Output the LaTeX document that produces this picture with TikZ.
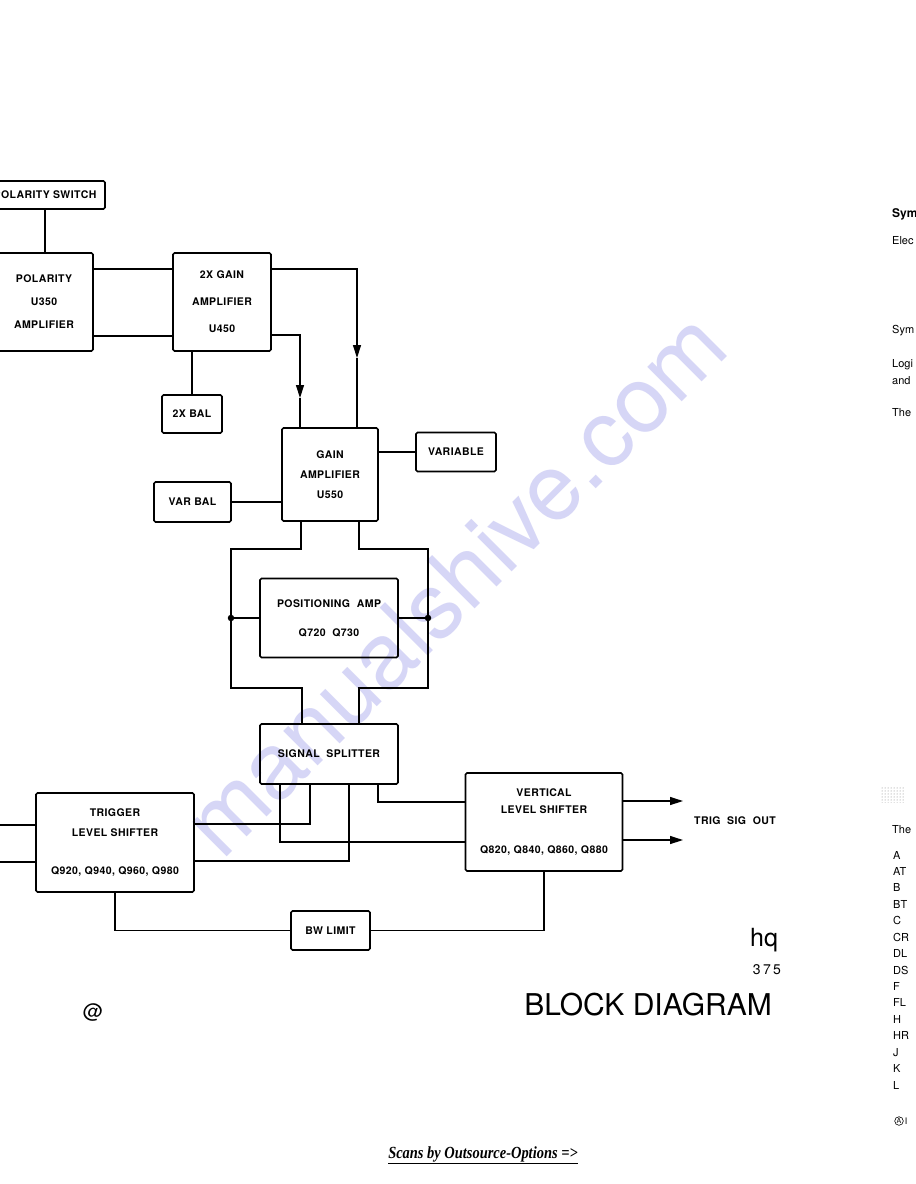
\documentclass[tikz,border=0pt]{standalone}
\usepackage{fontspec}
\setmainfont{TeX Gyre Heros}
\newfontfamily\labfont{TeX Gyre Heros}[LetterSpace=4]
\newfontfamily\scanfont{Liberation Serif}
\usetikzlibrary{arrows.meta,positioning,patterns}
\tikzset{>=Stealth}
\definecolor{wmark}{RGB}{214,214,246}

\begin{document}
\begin{tikzpicture}[x=1pt,y=-1pt,
    block/.style={draw, line width=1.7pt, rounded corners=1.5pt, align=center, inner sep=0pt,
      font=\labfont\fontsize{10.5}{12}\selectfont\bfseries},
    wire/.style={line width=1.3pt},
    arr/.style={wire, -{Triangle[length=13pt,width=8pt]}},
    dot/.style={circle, fill, inner sep=0pt, minimum size=6.5pt},
    lbl/.style={font=\labfont\fontsize{10.5}{12}\selectfont\bfseries},
    side/.style={anchor=base west, inner sep=0pt, font=\fontsize{11}{13}\selectfont}
  ]
    \path[use as bounding box, fill=white] (0,0) rectangle (916,1184);

    \node[rotate=45, text=wmark, font=\fontsize{93}{93}\selectfont, anchor=base west, inner sep=0pt] (wm) at (222,862) {manualshive.com};

    \node[block, minimum width=120pt, minimum height=28pt] (polsw)   at (45,195)    {POLARITY SWITCH};
    \node[block, minimum width=98pt,  minimum height=98pt] (polamp)  at (44,302)    {POLARITY\\[11pt]U350\\[11pt]AMPLIFIER};
    \node[block, minimum width=98pt,  minimum height=98pt] (gain2x)  at (222,302)   {2X GAIN\\[15pt]AMPLIFIER\\[15pt]U450};
    \node[block, minimum width=60pt,  minimum height=38pt] (bal2x)   at (192,414)   {2X BAL};
    \node[block, minimum width=96pt,  minimum height=93pt] (gainamp) at (330,474.5) {GAIN\\[8pt]AMPLIFIER\\[8pt]U550};
    \node[block, minimum width=80pt,  minimum height=39pt] (variable) at (456,452)  {VARIABLE};
    \node[block, minimum width=77pt,  minimum height=40pt] (varbal)  at (192.5,502) {VAR BAL};
    \node[block, minimum width=138pt, minimum height=79pt] (posamp)  at (329,618)   {POSITIONING\ \ AMP\\[17pt]Q720\ \ Q730};
    \node[block, minimum width=138pt, minimum height=60pt] (splitter) at (329,754)  {SIGNAL\ \ SPLITTER};
    \node[block, minimum width=157pt, minimum height=98pt] (vertls)  at (544,822)   {VERTICAL\\[5pt]LEVEL SHIFTER\\[28pt]Q820, Q840, Q860, Q880};
    \node[block, minimum width=158pt, minimum height=99pt] (trigls)  at (115,842.5) {TRIGGER\\[8pt]LEVEL SHIFTER\\[26pt]Q920, Q940, Q960, Q980};
    \node[block, minimum width=79pt,  minimum height=39pt] (bwlim)   at (330.5,930.5) {BW LIMIT};

    \draw[wire] (polsw.south) -- (polamp.north -| polsw.south);
    \draw[wire] ([yshift=33pt]polamp.east) -- ([yshift=33pt]gain2x.west);
    \draw[wire] ([yshift=-34pt]polamp.east) -- ([yshift=-34pt]gain2x.west);
    \draw[wire] (bal2x.north) -- (bal2x.north |- gain2x.south);

    \coordinate (tipA) at (357,358);
    \coordinate (tipB) at (300,398);
    \draw[arr] ([yshift=33pt]gain2x.east) -| (tipA);
    \draw[wire] (tipA) -- ([xshift=27pt]gainamp.north);
    \draw[arr] ([yshift=-33pt]gain2x.east) -| (tipB);
    \draw[wire] (tipB) -- ([xshift=-30pt]gainamp.north);

    \draw[wire] (variable.west) -- (variable.west -| gainamp.east);
    \draw[wire] (varbal.east) -- (varbal.east -| gainamp.west);

    \coordinate (ltop) at (231,549);
    \coordinate (lbot) at (231,688);
    \coordinate (rtop) at (428,549);
    \coordinate (rbot) at (428,688);
    \draw[wire] ([xshift=-29pt]gainamp.south) |- (ltop) -- (lbot) -| ([xshift=-27pt]splitter.north);
    \draw[wire] ([xshift=29pt]gainamp.south) |- (rtop) -- (rbot) -| ([xshift=30pt]splitter.north);
    \node[dot] (dl) at (231,618) {};
    \node[dot] (dr) at (428,618) {};
    \draw[wire] (dl) -- (posamp.west);
    \draw[wire] (posamp.east) -- (dr);

    \draw[wire] ([xshift=-19pt]splitter.south) |- ([yshift=18.5pt]trigls.east);
    \draw[wire] ([xshift=20pt]splitter.south) |- ([yshift=-18.5pt]trigls.east);
    \draw[wire] ([xshift=-49pt]splitter.south) |- ([yshift=-20pt]vertls.west);
    \draw[wire] ([xshift=49pt]splitter.south) |- ([yshift=20pt]vertls.west);

    \coordinate (inA) at (-5,825);
    \coordinate (inB) at (-5,862);
    \draw[wire] (inA) -- (inA -| trigls.west);
    \draw[wire] (inB) -- (inB -| trigls.west);

    \coordinate (outA) at (683,801);
    \coordinate (outB) at (683,840);
    \draw[arr] ([yshift=21pt]vertls.east) -- (outA);
    \draw[arr] ([yshift=-18pt]vertls.east) -- (outB);
    \node[lbl] (trigout) at (735,821) {TRIG\ \ SIG\ \ OUT};

    \draw[wire] (trigls.south) |- (bwlim.west);
    \draw[wire] (bwlim.east) -| (vertls.south);

    \node[font=\fontsize{25}{25}\selectfont] (hq) at (764,940) {hq};
    \node[font=\fontsize{14}{14}\selectfont] (num) at (767,970) {3\,7\,5};
    \node[font=\fontsize{30}{30}\selectfont] (title) at (648,1005) {BLOCK DIAGRAM};
    \node[font=\fontsize{20}{20}\selectfont] (atsign) at (93,1012) {@};
    \node[font=\scanfont\fontsize{17}{17}\selectfont\bfseries\itshape] (scans) at (483,1155)
      {\scalebox{0.85}[1]{\underline{Scans by Outsource-Options =>}}};

    \node[side, font=\fontsize{12}{14}\selectfont\bfseries] (r1) at (892,217) {Sym};
    \node[side] (r2) at (892,244) {Elec};
    \node[side] (r3) at (892,333) {Sym};
    \node[side] (r4) at (892,367) {Logi};
    \node[side] (r5) at (892,384) {and};
    \node[side] (r6) at (892,416) {The};
    \fill[pattern=dots, pattern color=gray] (880,786) rectangle (905,802);
    \node[side] (r7) at (892,833) {The};
    \foreach \t [count=\i from 0] in {A,AT,B,BT,C,CR,DL,DS,F,FL,H,HR,J,K,L}
      \node[side] (l\i) at (893,859+16.43*\i) {\t};
    \node[draw, circle, line width=0.6pt, inner sep=0.6pt, font=\fontsize{7}{8}\selectfont] (aic) at (899,1121) {A};
    \node[inner sep=0pt, font=\fontsize{9}{10}\selectfont, right=1pt of aic] (ai) {I};
  \end{tikzpicture}
\end{document}
